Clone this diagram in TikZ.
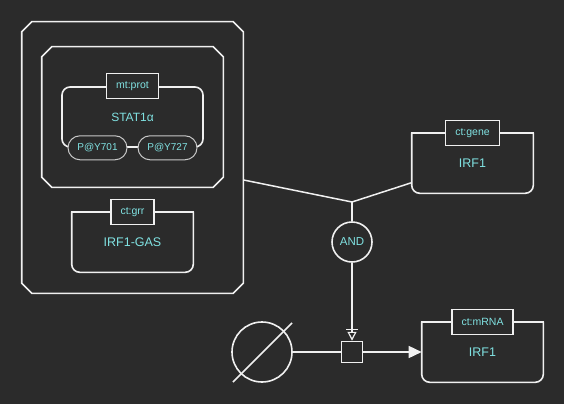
\documentclass[tikz,border=0pt]{standalone}
\usepackage{fontspec}
\setmainfont{Liberation Sans}
\usepackage{tikz}
\usetikzlibrary{arrows.meta,calc,positioning,shapes.misc}
\definecolor{bgcol}{RGB}{43,43,43}
\definecolor{edgecol}{RGB}{240,240,240}
\definecolor{svcol}{RGB}{200,200,200}
\definecolor{txtcol}{RGB}{128,226,226}

\begin{document}
\begin{tikzpicture}[x=1pt,y=-1pt,semithick,every node/.style={text=txtcol}]
  \tikzstyle{cplx}=[rectangle, inner sep=0pt]
  \tikzstyle{macro}=[rectangle, rounded corners=8pt, draw=edgecol, line width=1.6pt, minimum width=141pt, minimum height=60pt, inner sep=0pt, font=\fontsize{12}{14}\selectfont]
  \tikzstyle{nafeat}=[rectangle, minimum width=121pt, minimum height=60pt, inner sep=0pt, font=\fontsize{12.5}{14}\selectfont]
  \tikzstyle{unit}=[rectangle, draw=edgecol, fill=bgcol, line width=1.2pt, minimum height=25pt, inner xsep=9.5pt, inner ysep=0pt, font=\fontsize{10.5}{12}\selectfont]
  \tikzstyle{svar}=[rounded rectangle, draw=svcol, fill=bgcol, line width=1pt, minimum width=59pt, minimum height=24pt, inner sep=0pt, font=\fontsize{10}{12}\selectfont]
  \tikzstyle{logic}=[circle, draw=edgecol, line width=1.6pt, minimum size=40pt, inner sep=0pt, font=\fontsize{11.5}{13}\selectfont]
  \tikzstyle{conn}=[draw=edgecol, line width=1.5pt]
  % background and size
  \fill[bgcol] (0,0) rectangle (564,404);
  % complexes
  \node[cplx, minimum width=221pt, minimum height=271pt] (cplx) at (132.5,157.5) {};
  \node[cplx, minimum width=181pt, minimum height=140pt] (stcplx) at (132.5,117) {};
  \foreach \n in {cplx,stcplx}{
    \draw[edgecol, line width=1.6pt] ($(\n.north west)+(10,0)$) -- ($(\n.north east)+(-10,0)$)
      -- ($(\n.north east)+(0,10)$) -- ($(\n.south east)+(0,-10)$)
      -- ($(\n.south east)+(-10,0)$) -- ($(\n.south west)+(10,0)$)
      -- ($(\n.south west)+(0,-10)$) -- ($(\n.north west)+(0,10)$) -- cycle;
  }
  \node[macro] (stat) at (132.5,117) {STAT1α};
  \node[svar] (y701) at ($(stat.south)+(-35,0)$) {P@Y701};
  \node[svar] (y727) at ($(stat.south)+(35,0)$) {P@Y727};
  \node[unit] (statu) at (stat.north) {mt:prot};
  % nucleic acid features
  \node[nafeat] (gas) at (132.5,242) {IRF1-GAS};
  \node[nafeat] (gene) at (472.5,163) {IRF1};
  \node[nafeat] (mrna) at (482.5,352) {IRF1};
  \foreach \n in {gas,gene,mrna}{
    \draw[edgecol, line width=1.6pt, rounded corners=8pt] (\n.north west) -- (\n.south west) -- (\n.south east) -- (\n.north east);
    \draw[edgecol, line width=1.6pt, line cap=rect] (\n.north west) -- (\n.north east);
  }
  \node[unit] (gasu) at (gas.north) {ct:grr};
  \node[unit] (geneu) at (gene.north) {ct:gene};
  \node[unit] (mrnau) at (mrna.north) {ct:mRNA};
  % process
  \coordinate (jn) at (352,202);
  \node[logic] (and) at (352,242) {AND};
  \node[rectangle, draw=edgecol, line width=1.5pt, minimum size=21pt, inner sep=0pt] (proc) at (352,352) {};
  \node[circle, draw=edgecol, line width=1.6pt, minimum size=60pt, inner sep=0pt] (sink) at (262,352) {};
  \draw[conn] ($(sink.center)+(-29,30)$) -- ($(sink.center)+(30,-29)$);
  % arcs
  \path[conn]
    (cplx) edge (jn)
    (gene) edge (jn)
    (jn) edge (and);
  \draw[conn, -{Bar[width=12pt,line width=1.2pt,sep=2pt] Triangle[open,width=9pt,length=9pt,line width=1.2pt]}] (and) -- (proc);
  \draw[conn] (sink) -- (proc);
  \draw[conn, -{Triangle[width=12pt,length=13pt,fill=edgecol]}] (proc) -- (mrna);
\end{tikzpicture}
\end{document}
